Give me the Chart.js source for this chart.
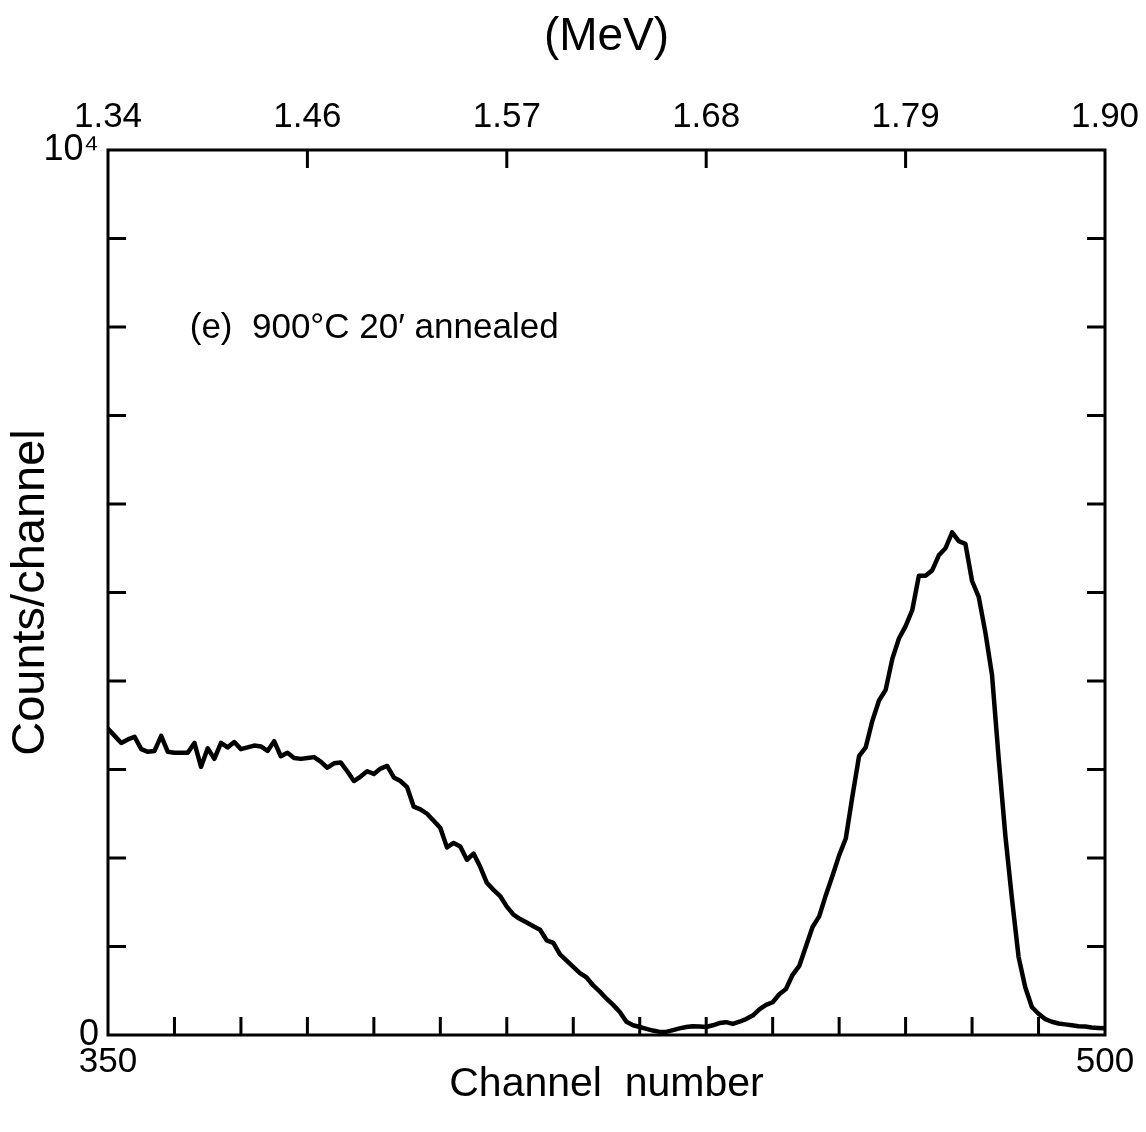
<!DOCTYPE html>
<html>
<head>
<meta charset="utf-8">
<title>Counts per channel</title>
<script src="https://cdn.jsdelivr.net/npm/chart.js@4.4.1/dist/chart.umd.min.js"></script>
<style>
  html, body { margin: 0; padding: 0; background: #fff; }
  #wrap { width: 1146px; height: 1132px; position: relative; }
</style>
</head>
<body>
<div id="wrap"><canvas id="spectrum"></canvas></div>
<script>
// Spectrum: counts per channel, channels 350..500
const firstChannel = 350;
const lastChannel = 500;
const counts = [
    3460, 3380, 3300, 3340, 3370, 3230, 3200, 3210, 3380, 3200, // 350-359
    3190, 3190, 3190, 3300, 3030, 3240, 3120, 3300, 3250, 3310, // 360-369
    3230, 3250, 3270, 3260, 3210, 3320, 3150, 3190, 3130, 3120, // 370-379
    3130, 3140, 3090, 3020, 3070, 3080, 2980, 2870, 2920, 2980, // 380-389
    2950, 3010, 3040, 2910, 2870, 2800, 2580, 2550, 2500, 2420, // 390-399
    2340, 2120, 2170, 2130, 1980, 2050, 1900, 1720, 1640, 1570, // 400-409
    1450, 1360, 1310, 1270, 1230, 1190, 1070, 1040, 910, 840,   // 410-419
    770, 700, 650, 560, 490, 410, 340, 260, 150, 110,           // 420-429
    90, 70, 50, 35, 35, 55, 75, 90, 100, 95,                    // 430-439
    90, 110, 135, 145, 125, 150, 180, 220, 290, 340,            // 440-449
    370, 460, 520, 680, 780, 1000, 1220, 1340, 1580, 1800,      // 450-459
    2030, 2220, 2700, 3150, 3250, 3550, 3780, 3900, 4250, 4480, // 460-469
    4620, 4800, 5190, 5190, 5250, 5420, 5500, 5680, 5580, 5550, // 470-479
    5130, 4950, 4550, 4070, 3130, 2260, 1540, 880, 540, 316,    // 480-489
    240, 180, 150, 130, 120, 110, 100, 95, 85, 80,              // 490-499
    75                                                          // 500
];
const channels = counts.map((_, i) => firstChannel + i);

// Axis ticks and labels
const channelTicks = [360, 370, 380, 390, 400, 410, 420, 430, 440, 450, 460, 470, 480, 490];
const channelLabels = [350, 500];
const energyTicks = [350, 380, 410, 440, 470, 500];
const energyLabels = ['1.34', '1.46', '1.57', '1.68', '1.79', '1.90'];
const countTicks = [1000, 2000, 3000, 4000, 5000, 6000, 7000, 8000, 9000];
const countLabelValues = [0, 10000];
const countLabelText = ['0', '10\u2074'];
const sampleNote = '(e)  900\u00B0C 20\u2032 annealed';

const FONT = "'Liberation Sans', Arial, Helvetica, sans-serif";
const TICK_LEN = 18;

// frame + inward tick marks, drawn from the scales
const frameTicks = {
    id: 'frameTicks',
    afterDatasetsDraw(chart) {
        const { ctx, chartArea: a, scales } = chart;
        ctx.save();
        ctx.strokeStyle = '#000';
        ctx.lineWidth = 3;
        ctx.lineCap = 'butt';
        ctx.strokeRect(a.left, a.top, a.right - a.left, a.bottom - a.top);
        ctx.beginPath();
        channelTicks.forEach(v => {
            const x = scales.x.getPixelForValue(v);
            ctx.moveTo(x, a.bottom);
            ctx.lineTo(x, a.bottom - TICK_LEN);
        });
        energyTicks.slice(1, -1).forEach(v => {
            const x = scales.x2.getPixelForValue(v);
            ctx.moveTo(x, a.top);
            ctx.lineTo(x, a.top + TICK_LEN);
        });
        countTicks.forEach(v => {
            const y = scales.y.getPixelForValue(v);
            ctx.moveTo(a.left, y);
            ctx.lineTo(a.left + TICK_LEN, y);
            ctx.moveTo(a.right, y);
            ctx.lineTo(a.right - TICK_LEN, y);
        });
        ctx.stroke();

        // sample label
        ctx.fillStyle = '#000';
        ctx.font = `35px ${FONT}`;
        ctx.textBaseline = 'middle';
        ctx.textAlign = 'left';
        ctx.fillText(sampleNote, scales.x.getPixelForValue(362.3), scales.y.getPixelForValue(7990));
        ctx.restore();
    }
};

// fix a scale box size; horizontal scales get no extra side padding for edge labels
function fixedSize(prop, size) {
    return scale => {
        scale[prop] = size;
        if (prop === 'height') {
            scale.paddingLeft = 0;
            scale.paddingRight = 0;
        }
    };
}

const ctx = document.getElementById('spectrum').getContext('2d');
new Chart(ctx, {
    type: 'line',
    data: {
        datasets: [{
            data: channels.map((c, i) => ({ x: c, y: counts[i] })),
            borderColor: '#000',
            borderWidth: 4.5,
            borderJoinStyle: 'round',
            borderCapStyle: 'round',
            pointRadius: 0,
            tension: 0,
            fill: false
        }]
    },
    options: {
        responsive: true,
        maintainAspectRatio: false,
        animation: false,
        layout: { padding: 0 },
        plugins: {
            legend: { display: false },
            tooltip: { enabled: false }
        },
        scales: {
            x: {
                type: 'linear',
                position: 'bottom',
                min: firstChannel,
                max: lastChannel,
                afterBuildTicks: s => { s.ticks = channelLabels.map(v => ({ value: v })); },
                afterFit: fixedSize('height', 97),
                grid: { display: false, drawTicks: false },
                border: { display: false },
                ticks: {
                    color: '#000',
                    padding: 6,
                    maxRotation: 0,
                    font: { family: FONT, size: 35 },
                    callback: v => String(v)
                },
                title: {
                    display: true,
                    text: 'Channel  number',
                    color: '#000',
                    font: { family: FONT, size: 41 },
                    padding: { top: 0, bottom: 23 }
                }
            },
            x2: {
                type: 'linear',
                position: 'top',
                min: firstChannel,
                max: lastChannel,
                afterBuildTicks: s => { s.ticks = energyTicks.map(v => ({ value: v })); },
                afterFit: fixedSize('height', 150),
                grid: { display: false, drawTicks: false },
                border: { display: false },
                ticks: {
                    color: '#000',
                    padding: 12,
                    maxRotation: 0,
                    font: { family: FONT, size: 35 },
                    callback: v => energyLabels[energyTicks.indexOf(v)]
                },
                title: {
                    display: true,
                    text: '(MeV)',
                    color: '#000',
                    font: { family: FONT, size: 46 },
                    padding: { top: 10, bottom: 0 }
                }
            },
            y: {
                type: 'linear',
                position: 'left',
                min: 0,
                max: 10000,
                afterBuildTicks: s => { s.ticks = countLabelValues.map(v => ({ value: v })); },
                afterFit: fixedSize('width', 108),
                grid: { display: false, drawTicks: false },
                border: { display: false },
                ticks: {
                    color: '#000',
                    padding: 9,
                    font: { family: FONT, size: 36 },
                    callback: v => countLabelText[countLabelValues.indexOf(v)]
                },
                title: {
                    display: true,
                    text: 'Counts/channel',
                    color: '#000',
                    font: { family: FONT, size: 47 },
                    padding: { top: 3, bottom: 0 }
                }
            },
            y2: {
                type: 'linear',
                position: 'right',
                min: 0,
                max: 10000,
                afterFit: fixedSize('width', 41),
                grid: { display: false, drawTicks: false },
                border: { display: false },
                ticks: { display: false }
            }
        }
    },
    plugins: [frameTicks]
});
</script>
</body>
</html>
